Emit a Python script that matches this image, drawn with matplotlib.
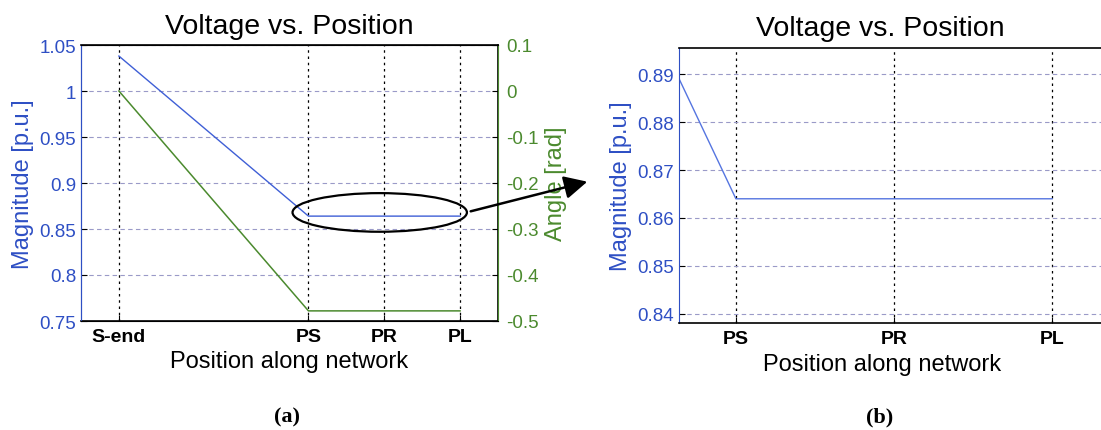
import matplotlib.pyplot as plt
from matplotlib.patches import Ellipse, FancyArrowPatch

plt.rcParams['font.family'] = ['Liberation Sans', 'DejaVu Sans']

# data
positions = [0, 5, 7, 9]
position_labels = ['S-end', 'PS', 'PR', 'PL']
magnitude = [1.038, 0.864, 0.864, 0.864]
angle = [0.0, -0.478, -0.478, -0.478]

mag_ticks_a = [0.75, 0.8, 0.85, 0.9, 0.95, 1.0, 1.05]
mag_ticklabels_a = ['0.75', '0.8', '0.85', '0.9', '0.95', '1', '1.05']
angle_ticks = [-0.5, -0.4, -0.3, -0.2, -0.1, 0.0, 0.1]
angle_ticklabels = ['-0.5', '-0.4', '-0.3', '-0.2', '-0.1', '0', '0.1']
mag_ticks_b = [0.84, 0.85, 0.86, 0.87, 0.88, 0.89]

blue = '#2e4fc4'
line_blue = '#3f5fd6'
green = '#4b8a2e'
hgrid = '#9a9ac8'

fig = plt.figure(figsize=(11.01, 4.31), dpi=100)
W, H = 1101, 431


def box(l, t, r, b):
    return [l / W, 1 - b / H, (r - l) / W, (b - t) / H]


def style_axes(ax, ticks, labels, title_x=0.5, xlabel_x=0.5):
    ax.set_xticks(positions)
    ax.set_xticklabels(position_labels, fontsize=14, fontweight='bold')
    ax.set_yticks(ticks)
    ax.set_yticklabels(labels, fontsize=13.5, color=blue)
    ax.tick_params(direction='in', length=4)
    ax.tick_params(axis='x', pad=5)
    ax.spines['left'].set_color(blue)
    for s in ['top', 'bottom', 'right']:
        ax.spines[s].set_color('black')
        ax.spines[s].set_linewidth(1.2)
    ax.xaxis.grid(True, linestyle=(0, (2, 3)), color='black', linewidth=0.9)
    ax.yaxis.grid(True, linestyle=(0, (4, 3)), color=hgrid, linewidth=0.8)
    ax.set_axisbelow(True)
    ax.set_xlabel('Position along network', fontsize=17, labelpad=4, x=xlabel_x)
    ax.set_ylabel('Magnitude [p.u.]', fontsize=17, color=blue, labelpad=4)
    ax.set_title('Voltage vs. Position', fontsize=20.5, pad=9, x=title_x)


# (a) magnitude and angle along the network
ax1 = fig.add_axes(box(81, 46, 498, 322))
ax1.plot(positions, magnitude, color=line_blue, linewidth=1)
style_axes(ax1, mag_ticks_a, mag_ticklabels_a)
ax1.set_xlim(-1, 10)
ax1.set_ylim(0.75, 1.05)

ax2 = ax1.twinx()
ax2.plot(positions, angle, color=green, linewidth=1.1)
ax2.set_ylim(-0.5, 0.1)
ax2.set_yticks(angle_ticks)
ax2.set_yticklabels(angle_ticklabels, fontsize=13.5, color=green)
ax2.tick_params(direction='in', length=4, pad=6)
ax2.spines['right'].set_color(green)
ax2.spines['left'].set_color(blue)
ax2.set_ylabel('Angle [rad]', fontsize=17, color=green, labelpad=4)

ell = Ellipse((6.88, 0.868), 4.6, 0.042, fill=False, edgecolor='black',
              linewidth=1.6, clip_on=False, zorder=5)
ax1.add_patch(ell)

# (b) zoom on the flat part
ax3 = fig.add_axes(box(679, 48.7, 1105, 324))
ax3.plot(positions, magnitude, color='#5575e0', linewidth=1)
style_axes(ax3, mag_ticks_b, [f'{t:.2f}' for t in mag_ticks_b],
           title_x=0.472, xlabel_x=0.477)
ax3.set_xlim(4.28, 9.67)
ax3.set_ylim(0.8381, 0.8955)

# arrow from the ellipse to panel (b)
fig.patches.append(FancyArrowPatch(
    (468 / W, 1 - 213 / H), (590 / W, 1 - 182 / H), transform=fig.transFigure,
    arrowstyle='-|>,head_length=14,head_width=7', mutation_scale=1,
    color='black', linewidth=1.8))

fig.text(287 / W, 1 - 417 / H, '(a)', fontsize=16, fontweight='bold',
         family='Liberation Serif', ha='center', va='center')
fig.text(880 / W, 1 - 417 / H, '(b)', fontsize=16, fontweight='bold',
         family='Liberation Serif', ha='center', va='center')

fig.savefig('out.png', dpi=100)
